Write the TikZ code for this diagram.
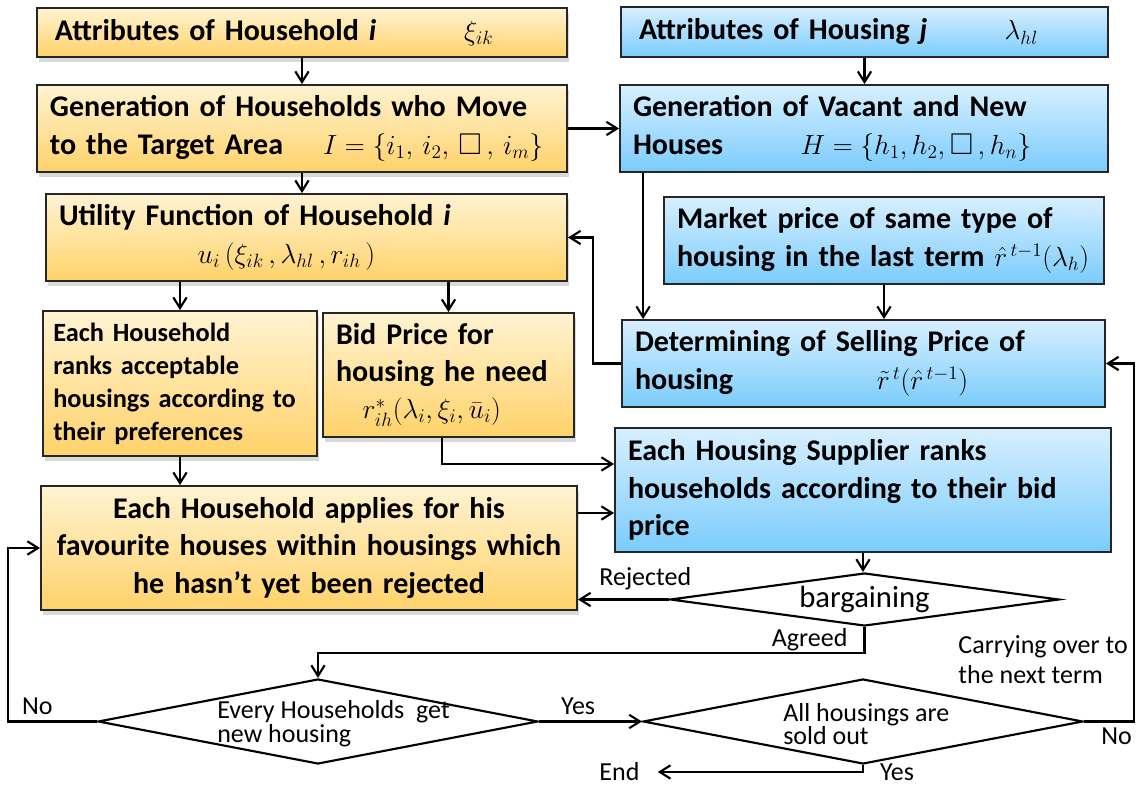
\documentclass[tikz,border=0pt]{standalone}
\usepackage{amssymb}
\usepackage{fontspec}
\setmainfont{Carlito}
\usetikzlibrary{shapes.geometric,arrows.meta,shadows}

\definecolor{hhTop}{RGB}{255,243,210}
\definecolor{hhBot}{RGB}{255,210,106}
\definecolor{hsTop}{RGB}{216,239,255}
\definecolor{hsBot}{RGB}{122,204,252}

\newcommand{\boxfont}{\fontsize{22.5}{28}\selectfont\bfseries}
\newcommand{\rankfont}{\fontsize{19.75}{24.75}\selectfont\bfseries}
\newcommand{\lblfont}{\fontsize{19.5}{22.5}\selectfont}

\tikzset{
  boxBase/.style={draw=black!85, line width=1.4pt, rectangle, inner xsep=9.75pt,
    inner ysep=0pt, align=left, font=\boxfont},
  hhBox/.style={boxBase, top color=hhTop, bottom color=hhBot,
    drop shadow={opacity=0.3, shadow xshift=1.5pt, shadow yshift=-3.5pt}},
  hsBox/.style={boxBase, top color=hsTop, bottom color=hsBot},
  decBox/.style={diamond, draw, line width=1.6pt, inner sep=0pt},
  arr/.style={-{Straight Barb[length=8pt,width=10pt]}, line width=1.6pt},
  lbl/.style={font=\lblfont, inner sep=0pt},
}

\begin{document}
\begin{tikzpicture}[x=0.75pt, y=-0.75pt]
  \useasboundingbox (0,0) rectangle (1136,787);

  % ---- household side ----
  \node[hhBox, minimum width=397.5pt, minimum height=36.75pt, text width=378pt] (hAttr) at (302,32.5)
    {\hspace*{3.75pt}Attributes of Household \textit{i}\hspace{66pt}$\xi_{ik}$};
  \node[hhBox, minimum width=397.5pt, minimum height=65.25pt, text width=378pt] (hGen) at (302,128.5)
    {Generation of Households who Move\\to the Target Area\hspace{30pt}$I=\{i_1,\,i_2,\,\square\,,\,i_m\}$};
  \node[hhBox, minimum width=390.75pt, minimum height=65.25pt, text width=371.25pt] (hUtil) at (306.5,237.5)
    {Utility Function of Household \textit{i}\\\hspace*{104pt}$u_i\,(\xi_{ik}\,,\lambda_{hl}\,,r_{ih}\,)$};
  \node[hhBox, font=\rankfont, inner xsep=7.75pt, minimum width=205.5pt, minimum height=108.75pt, text width=190pt] (hRank) at (180,383.5)
    {Each Household\\ranks acceptable\\housings according to\\their preferences};
  \node[hhBox, minimum width=188.25pt, minimum height=93pt, text width=168.75pt] (hBid) at (448.5,375)
    {Bid Price for\\housing he need\\\hspace*{20pt}$r^*_{ih}(\lambda_i,\xi_i,\bar{u}_i)$};
  \node[hhBox, align=center, inner xsep=3pt, minimum width=402pt, minimum height=93pt, text width=396pt] (hApply) at (309,548)
    {Each Household applies for his\\favourite houses within housings which\\he hasn’t yet been rejected};

  % ---- housing side ----
  \node[hsBox, minimum width=365.25pt, minimum height=37.5pt, text width=345.75pt] (sAttr) at (864.5,32)
    {\hspace*{3.75pt}Attributes of Housing \textit{j}\hspace{58pt}$\lambda_{hl}$};
  \node[hsBox, minimum width=366pt, minimum height=65.25pt, text width=346.5pt] (sGen) at (864,128.5)
    {Generation of Vacant and New\\Houses\hspace{58pt}$H=\{h_1,h_2,\square\,,h_n\}$};
  \node[hsBox, minimum width=330pt, minimum height=65.25pt, text width=310.5pt] (sMarket) at (884,240.5)
    {Market price of same type of\\housing in the last term $\hat{r}^{\,t-1}(\lambda_h)$};
  \node[hsBox, minimum width=362.25pt, minimum height=65.25pt, text width=342.75pt] (sSell) at (863.5,363.5)
    {Determining of Selling Price of\\housing\hspace{108pt}$\tilde{r}^{\,t}(\hat{r}^{\,t-1})$};
  \node[hsBox, minimum width=372pt, minimum height=93pt, text width=352.5pt] (sSupp) at (863,490)
    {Each Housing Supplier ranks\\households according to their bid\\price};

  % ---- decisions ----
  \node[decBox, aspect=7.3, minimum width=291.75pt, minimum height=39.75pt,
    font=\fontsize{23}{23}\selectfont] (dBarg) at (864.5,599.5) {bargaining};
  \node[decBox, minimum width=330pt, minimum height=63.75pt] (dEvery) at (318,721.5) {};
  \node[lbl, align=left, font=\fontsize{19.5}{16.5}\selectfont, anchor=west] (tEvery) at (217,724)
    {Every Households\ \ get\\new housing};
  \node[decBox, minimum width=330pt, minimum height=63.75pt] (dSold) at (863,721.5) {};
  \node[lbl, align=left, font=\fontsize{19.5}{16.5}\selectfont, anchor=west] (tSold) at (783,724)
    {All housings are\\sold out};
  \node[lbl] (nEnd) at (619.5,772) {End};

  % ---- connectors ----
  \coordinate (gOut) at ([xshift=18pt]sGen.south west);
  \coordinate (inBid) at ([yshift=19.5pt]sSupp.west);
  \coordinate (inApp) at ([yshift=-17.25pt]sSupp.west);
  \coordinate (bidOut) at ([xshift=-4.9pt]hBid.south);

  \draw[arr] (hAttr) -- (hGen);
  \draw[arr] (hGen.south) -- (hGen.south |- hUtil.north);
  \draw[arr] (sAttr.south) -- (sAttr.south |- sGen.north);
  \draw[arr] (hGen) -- (sGen);
  \draw[arr] (hRank.north |- hUtil.south) -- (hRank.north);
  \draw[arr] (hBid.north |- hUtil.south) -- (hBid.north);
  \draw[arr] (hRank.south) -- (hRank.south |- hApply.north);
  \draw[arr] (gOut) -- (gOut |- sSell.north);
  \draw[arr] (sMarket.south) -- (sMarket.south |- sSell.north);
  \draw[arr] (sSell.west) -- ++(-28,0) |- (hUtil.east);
  \draw[arr] (bidOut) |- (inBid);
  \draw[arr] (inApp -| hApply.east) -- (inApp);
  \draw[arr] (sSupp.south) -- (sSupp.south |- dBarg.north);
  \draw[arr] (dBarg.west) -- (dBarg.west -| hApply.east)
    node[lbl, pos=0.26, above=6pt] {Rejected};
  \draw[arr] (dBarg.south) -- ++(0,26) node[lbl, midway, left=12pt] {Agreed} -| (dEvery.north);
  \draw[arr] (dEvery.west) -- ++(-89,0) node[lbl, pos=0.67, above=4pt] {No} |- (hApply.west);
  \draw[arr] (dEvery.east) -- (dSold.west) node[lbl, pos=0.38, above=4pt] {Yes};
  \draw[arr] (dSold.east) -- ++(50,0) node[lbl, pos=0.65, below=4pt] {No} |- (sSell.east)
    node[lbl, pos=0.086, left=4pt, align=left] {Carrying over to\\the next term};
  \draw[arr] (dSold.south) |- ([xshift=13.5pt]nEnd.east)
    node[lbl, pos=0.5, right=12pt] {Yes};

\end{tikzpicture}
\end{document}
